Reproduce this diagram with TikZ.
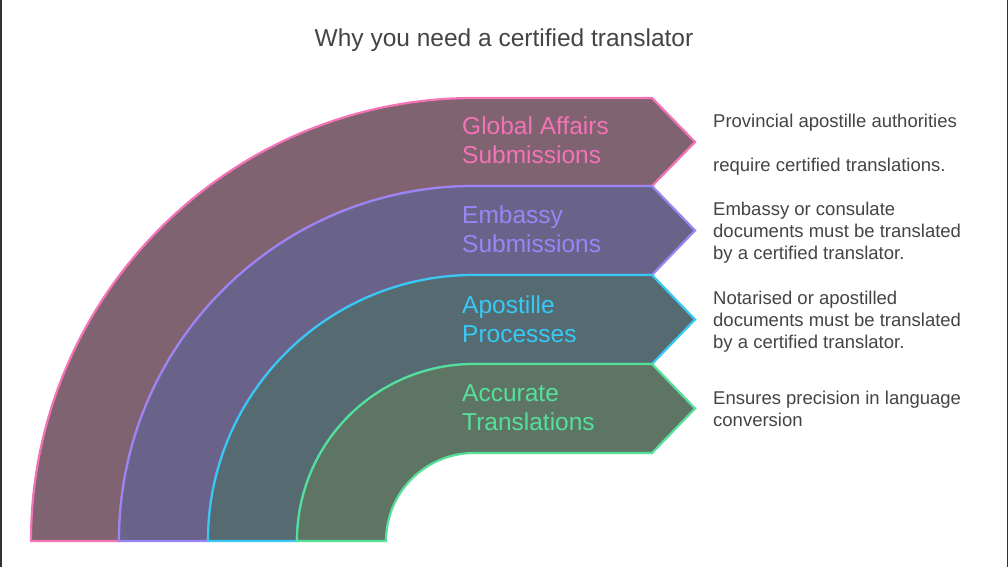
\documentclass[tikz,border=0pt]{standalone}
\usepackage{fontspec}
\setmainfont{Liberation Sans}
\definecolor{pinkS}{HTML}{F472B6}
\definecolor{pinkF}{HTML}{7F6370}
\definecolor{purpS}{HTML}{9A84F6}
\definecolor{purpF}{HTML}{6A6389}
\definecolor{cyanS}{HTML}{38C8F5}
\definecolor{cyanF}{HTML}{556B71}
\definecolor{greenS}{HTML}{55E09A}
\definecolor{greenF}{HTML}{5E7566}
\definecolor{txt}{HTML}{444444}
\tikzset{
  band/.style={line width=2.2pt, line join=miter},
  label/.style={anchor=base west, inner sep=0pt, font=\fontsize{24.5}{29}\selectfont, align=left},
  desc/.style={anchor=base west, inner sep=0pt, font=\fontsize{18.5}{22}\selectfont, align=left, text=txt},
}
\begin{document}
\begin{tikzpicture}[x=1pt,y=1pt]
\useasboundingbox (0,0) rectangle (1008,567);
\fill[white] (0,0) rectangle (1008,567);
\draw[line width=1.5pt, color=black!80] (0.75,0) -- (0.75,567);
\draw[line width=1.5pt, color=black!80] (1007.25,0) -- (1007.25,567);
% title
\node[anchor=base, inner sep=0pt, font=\fontsize{24.5}{29}\selectfont, text=txt] (title) at (504,520) {Why you need a certified translator};
% bands (center 474,26)
\draw[band, draw=pinkS, fill=pinkF] (31,26) arc[start angle=180, end angle=90, radius=443pt] -- (652,469) -- (695,425) -- (652,381) -- (474,381) arc[start angle=90, end angle=180, radius=355pt] -- cycle;
\draw[band, draw=purpS, fill=purpF] (119,26) arc[start angle=180, end angle=90, radius=355pt] -- (652,381) -- (695,336.5) -- (652,292) -- (474,292) arc[start angle=90, end angle=180, radius=266pt] -- cycle;
\draw[band, draw=cyanS, fill=cyanF] (208,26) arc[start angle=180, end angle=90, radius=266pt] -- (652,292) -- (695,247.5) -- (652,203) -- (474,203) arc[start angle=90, end angle=180, radius=177pt] -- cycle;
\draw[band, draw=greenS, fill=greenF] (297,26) arc[start angle=180, end angle=90, radius=177pt] -- (652,203) -- (695,158.5) -- (652,114) -- (474,114) arc[start angle=90, end angle=180, radius=88pt] -- cycle;
% labels (anchor = baseline of last line)
\node[label, text=pinkS] (l1) at (462,403) {Global Affairs\\Submissions};
\node[label, text=purpS] (l2) at (462,314) {Embassy\\Submissions};
\node[label, text=cyanS] (l3) at (462,224) {Apostille\\Processes};
\node[label, text=greenS] (l4) at (462,136) {Accurate\\Translations};
% descriptions
\node[desc] (d1) at (713,395) {Provincial apostille authorities\\[22pt]require certified translations.};
\node[desc] (d2) at (713,307) {Embassy or consulate\\documents must be translated\\by a certified translator.};
\node[desc] (d3) at (713,218) {Notarised or apostilled\\documents must be translated\\by a certified translator.};
\node[desc] (d4) at (713,140) {Ensures precision in language\\conversion};
\end{tikzpicture}
\end{document}
